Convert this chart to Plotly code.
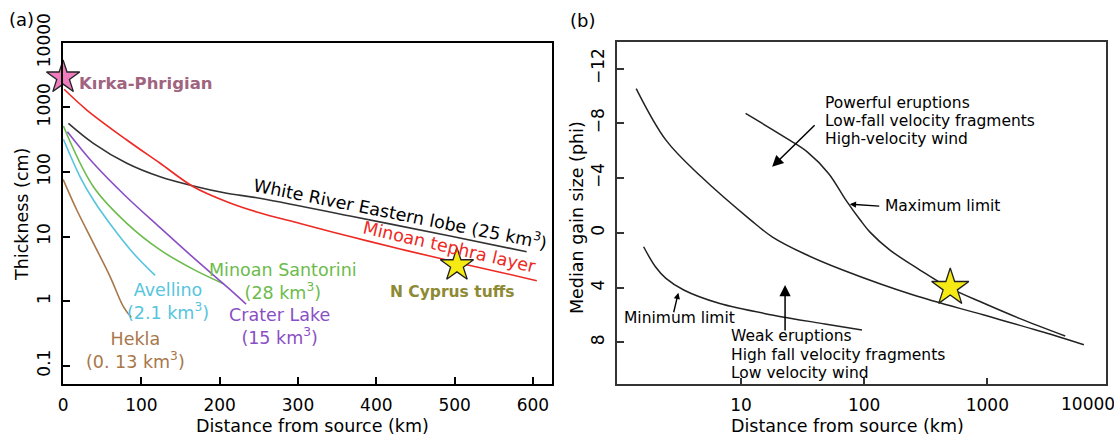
import math
import plotly.graph_objects as go

W, H = 1114, 436
FONT = "DejaVu Sans"

# ---------------- Panel (a): thickness vs distance ----------------
minoan_tephra_x = [1.3, 30.3, 81.4, 123.9, 166.4, 209, 247.4, 302.7, 366.5, 430.4, 494.3, 558, 605]
minoan_tephra_y = [1900, 908, 312, 136, 59, 34.6, 24, 15.9, 10.0, 6.4, 4.2, 2.8, 2.07]

white_river_x = [6.8, 38.7, 81.4, 123.9, 166.4, 209, 247.4, 366.5, 494.3, 592]
white_river_y = [565, 277, 136, 84, 60.5, 46.7, 39.8, 20.7, 10.2, 5.8]

santorini_x = [0.4, 38.7, 81.4, 123.9, 166.4, 205.6]
santorini_y = [514, 59, 16, 6.2, 3.1, 1.84]

crater_x = [5.5, 38.7, 81.4, 123.9, 166.4, 209, 233.7]
crater_y = [419, 136, 40.5, 13.7, 4.7, 1.67, 0.90]

avellino_x = [0.4, 21.7, 38.7, 64.2, 89.8, 117.5]
avellino_y = [320, 84, 36.7, 13.4, 5.5, 2.5]

hekla_x = [0, 17.5, 38.7, 60, 77, 87]
hekla_y = [76.7, 25.7, 7.9, 2.4, 0.82, 0.56]

kirka_x, kirka_y = [0], [2900]
cyprus_x, cyprus_y = [503], [3.6]

a_xticks = [0, 100, 200, 300, 400, 500, 600]
a_yticks = [0.1, 1, 10, 100, 1000, 10000]
a_yticktext = ["0.1", "1", "10", "100", "1000", "10000"]

# ---------------- Panel (b): median grain size vs distance ----------------
middle_x = [1.41, 2.46, 4.76, 12.0, 17.9, 33, 67, 251, 938, 3515, 6080]
middle_y = [-10.54, -6.77, -4.09, -0.93, 0.29, 1.55, 2.72, 4.55, 6.01, 7.5, 8.18]

max_x = [10.9, 24.8, 34.5, 51.4, 71.1, 93, 111.5, 162, 284, 485, 938, 1820, 4290]
max_y = [-8.72, -6.77, -5.91, -4.34, -2.39, -0.93, -0.05, 1.26, 2.72, 3.99, 5.15, 6.25, 7.54]

min_x = [1.62, 2.02, 2.46, 3.43, 6.63, 17.9, 48, 96]
min_y = [1.02, 2.48, 3.33, 4.18, 5.15, 6.0, 6.66, 7.1]

star_b_x, star_b_y = [500], [4.0]

b_xticks = [10, 100, 1000]
b_yticks = [-12, -8, -4, 0, 4, 8]

RED = "#ee2a24"
BLACK_LINE = "#333333"
GREEN = "#6cbb4c"
PURPLE = "#8a4fc4"
CYAN = "#56c5dd"
BROWN = "#a8774a"

fig = go.Figure()

def add_line(xs, ys, color, xa="x", ya="y", width=1.6):
    fig.add_trace(go.Scatter(x=xs, y=ys, mode="lines",
                             line=dict(color=color, width=width, shape="spline", smoothing=1.0),
                             xaxis=xa, yaxis=ya, showlegend=False, hoverinfo="skip"))

add_line(white_river_x, white_river_y, BLACK_LINE)
add_line(minoan_tephra_x, minoan_tephra_y, RED)
add_line(santorini_x, santorini_y, GREEN)
add_line(crater_x, crater_y, PURPLE)
add_line(avellino_x, avellino_y, CYAN)
add_line(hekla_x, hekla_y, BROWN)

fig.add_trace(go.Scatter(x=kirka_x, y=kirka_y, mode="markers", cliponaxis=False,
                         marker=dict(symbol="star", size=25, color="#f07cc0",
                                     line=dict(color="#222", width=1.3)),
                         xaxis="x", yaxis="y", showlegend=False, hoverinfo="skip"))
fig.add_trace(go.Scatter(x=cyprus_x, y=cyprus_y, mode="markers", cliponaxis=False,
                         marker=dict(symbol="star", size=25, color="#f5ea14",
                                     line=dict(color="#222", width=1.3)),
                         xaxis="x", yaxis="y", showlegend=False, hoverinfo="skip"))

add_line(middle_x, middle_y, "#222222", "x2", "y2", 1.5)
add_line(max_x, max_y, "#222222", "x2", "y2", 1.5)
add_line(min_x, min_y, "#222222", "x2", "y2", 1.5)
fig.add_trace(go.Scatter(x=star_b_x, y=star_b_y, mode="markers", cliponaxis=False,
                         marker=dict(symbol="star", size=28, color="#f5ea14",
                                     line=dict(color="#222", width=1.3)),
                         xaxis="x2", yaxis="y2", showlegend=False, hoverinfo="skip"))

def pp(px, py):
    return px / W, 1 - py / H

ann = []

def txt(text, x, y, color="black", size=17, xref="x", yref="y", angle=0,
        xanchor="center", yanchor="middle", bold=False, align="center"):
    if bold:
        text = "<b>" + text + "</b>"
    ann.append(dict(text=text, x=x, y=y, xref=xref, yref=yref, showarrow=False,
                    textangle=angle, xanchor=xanchor, yanchor=yanchor, align=align,
                    font=dict(family=FONT, size=size, color=color)))

# panel (a) labels (log axis => y given as log10)
txt("Kırka-Phrigian", 17.9, 3.376, color="#a0647f", size=16.5, xanchor="left", bold=True)
txt("White River Eastern lobe (25 km<sup>3</sup>)", 430.4, 1.364, color="black", size=17.5, angle=11.3)
txt("Minoan tephra layer", 493, 0.837, color=RED, size=17.5, angle=13)
txt("Minoan Santorini<br>(28 km<sup>3</sup>)", 281, 0.311, color=GREEN, size=17.5)
txt("Avellino<br>(2.1 km<sup>3</sup>)", 134, 0.0, color=CYAN, size=17.5)
txt("Crater Lake<br>(15 km<sup>3</sup>)", 276, -0.386, color=PURPLE, size=17.5)
txt("Hekla<br>(0. 13 km<sup>3</sup>)", 92, -0.757, color=BROWN, size=17.5)
txt("N Cyprus tuffs", 497, 0.141, color="#8e8a34", size=15.5, bold=True)

# panel (b) labels
b_size = 15.5
for i, line in enumerate(["Powerful eruptions", "Low-fall velocity fragments", "High-velocity wind"]):
    x, y = pp(823, 102.7 + 18 * i)
    txt(line, x, y, xref="paper", yref="paper", size=b_size, xanchor="left")
for i, line in enumerate(["Weak eruptions", "High fall velocity fragments", "Low velocity wind"]):
    x, y = pp(729, 336 + 18.6 * i)
    txt(line, x, y, xref="paper", yref="paper", size=b_size, xanchor="left")
x, y = pp(883, 206)
txt("Maximum limit", x, y, xref="paper", yref="paper", size=b_size, xanchor="left")
x, y = pp(622, 318.3)
txt("Minimum limit", x, y, xref="paper", yref="paper", size=b_size, xanchor="left")

def arrow(xv, yv, ax, ay, size=1.0, width=1.4, head=2):
    ann.append(dict(text="", x=math.log10(xv), y=yv, xref="x2", yref="y2",
                    ax=ax, ay=ay, showarrow=True, arrowhead=head, arrowsize=size,
                    arrowwidth=width, arrowcolor="black", standoff=0, startstandoff=0))

arrow(17.9, -4.82, 44, -43, size=1.5, width=1.5)
arrow(22.8, 3.82, 0, 47, size=1.5, width=1.5)
arrow(76.4, -2.09, 31, 2, size=0.9, width=1.4)
arrow(3.10, 4.38, -5, 21, size=0.9, width=1.4)

# panel letters and axis titles
x, y = pp(21, 20)
txt("(a)", x, y, xref="paper", yref="paper", size=18)
x, y = pp(582, 21)
txt("(b)", x, y, xref="paper", yref="paper", size=18)
x, y = pp(312, 426)
txt("Distance from source (km)", x, y, xref="paper", yref="paper", size=17.5)
x, y = pp(847, 426)
txt("Distance from source (km)", x, y, xref="paper", yref="paper", size=17.5)
x, y = pp(22, 215)
txt("Thickness (cm)", x, y, xref="paper", yref="paper", size=17.5, angle=-90)
x, y = pp(577, 218)
txt("Median gain size (phi)", x, y, xref="paper", yref="paper", size=17.5, angle=-90)
x, y = pp(1088, 404)
txt("10000", x, y, xref="paper", yref="paper", size=17)

axis_common = dict(showline=True, mirror=True, ticks="inside", ticklen=7, tickwidth=1.5,
                   showgrid=False, zeroline=False, automargin=False,
                   tickfont=dict(family=FONT, size=17, color="black"))

fig.update_layout(
    width=W, height=H, autosize=False,
    margin=dict(l=0, r=0, t=0, b=0, pad=0, autoexpand=False),
    paper_bgcolor="white", plot_bgcolor="white", showlegend=False,
    font=dict(family=FONT, size=17, color="black"),
    xaxis=dict(domain=[62.7 / W, 551.7 / W], range=[-0.5, 624], tickvals=a_xticks,
               anchor="y", linecolor="black", linewidth=2, tickcolor="black",
               ticklabelstandoff=4, **axis_common),
    yaxis=dict(domain=[1 - 384.3 / H, 1 - 42.7 / H], type="log", range=[-1.288, 4],
               tickvals=a_yticks, ticktext=a_yticktext, tickangle=-90, anchor="x",
               linecolor="black", linewidth=2, tickcolor="black",
               ticklabelstandoff=4, **axis_common),
    xaxis2=dict(domain=[616.7 / W, 1105.7 / W], type="log", range=[-0.009, 3.961],
                tickvals=b_xticks, anchor="y2", linecolor="#333", linewidth=1.6,
                tickcolor="#333", ticklabelstandoff=4, **axis_common),
    yaxis2=dict(domain=[1 - 384.3 / H, 1 - 42.3 / H], range=[11.07, -13.92],
                tickvals=b_yticks, tickangle=-90, anchor="x2", linecolor="#333",
                linewidth=1.6, tickcolor="#333", ticklabelstandoff=4, **axis_common),
    annotations=ann,
)

fig.write_html("out.html", config={"responsive": False, "displayModeBar": False},
               post_script="document.body.style.margin='0';document.body.style.padding='0';"
                           "document.documentElement.style.overflow='hidden';")
